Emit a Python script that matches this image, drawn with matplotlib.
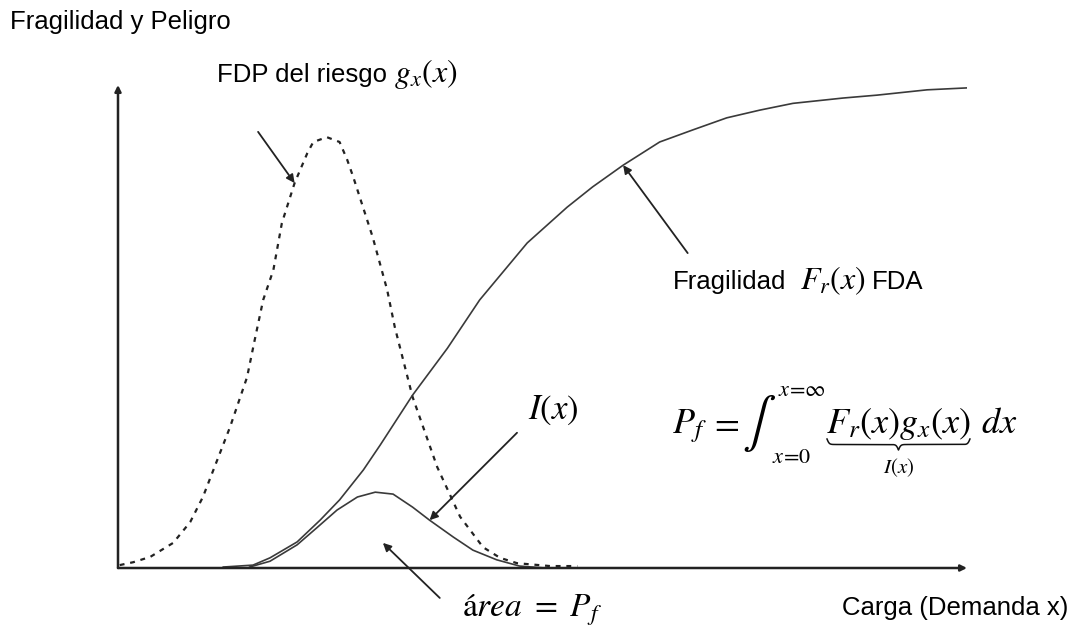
import numpy as np
import matplotlib
matplotlib.use("Agg")
import matplotlib.pyplot as plt

plt.rcParams['font.family'] = ['Liberation Sans', 'DejaVu Sans']
plt.rcParams['mathtext.fontset'] = 'stix'

# hazard pdf g_x(x) (dashed)
pdf_x = [0.02, 0.18, 0.38, 0.65, 0.85, 1.00, 1.17, 1.32, 1.52, 1.61, 1.71, 1.83, 1.93,
         2.08, 2.23, 2.30, 2.46, 2.61, 2.70, 2.77, 3.00, 3.17, 3.26, 3.47, 3.76, 4.03,
         4.30, 4.50, 4.70, 5.09, 5.41]
pdf_y = [0.006, 0.012, 0.023, 0.052, 0.095, 0.147, 0.224, 0.292, 0.395, 0.472, 0.555,
         0.617, 0.714, 0.797, 0.859, 0.882, 0.892, 0.882, 0.845, 0.810, 0.685, 0.576,
         0.499, 0.354, 0.209, 0.106, 0.043, 0.021, 0.010, 0.004, 0.004]

# fragility cdf F_r(x)
cdf_x = [1.24, 1.59, 1.79, 2.11, 2.38, 2.61, 2.89, 3.09, 3.47, 3.88, 4.26, 4.82, 5.29,
         5.59, 5.95, 6.38, 6.77, 7.17, 7.56, 7.95, 8.54, 8.94, 9.53, 10.0]
cdf_y = [0.002, 0.006, 0.021, 0.054, 0.099, 0.141, 0.203, 0.255, 0.358, 0.455, 0.555,
         0.673, 0.747, 0.789, 0.834, 0.882, 0.907, 0.932, 0.948, 0.962, 0.973, 0.979,
         0.990, 0.994]

# integrand I(x) = F_r(x) g_x(x)
ix_x = [1.55, 1.79, 2.11, 2.34, 2.58, 2.82, 3.03, 3.24, 3.47, 3.67, 3.95, 4.18, 4.46,
        4.73, 5.03]
ix_y = [0.002, 0.014, 0.048, 0.083, 0.120, 0.147, 0.157, 0.153, 0.126, 0.099, 0.064,
        0.037, 0.017, 0.004, 0.0]

W, H = 1074, 635
fig = plt.figure(figsize=(W / 100, H / 100), dpi=100)
ax = fig.add_axes([118 / W, (H - 568) / H, 849 / W, 483 / H])
ax.set_xlim(0, 10)
ax.set_ylim(0, 1)
ax.axis('off')

ax.plot(pdf_x, pdf_y, color='#222222', lw=1.6, ls=(0, (2.2, 2.6)))
ax.plot(cdf_x, cdf_y, color='#3a3a3a', lw=1.2)
ax.plot(ix_x, ix_y, color='#3a3a3a', lw=1.2)

# axes with arrow heads
axis_style = dict(arrowstyle='-|>', color='#222222', lw=1.8, mutation_scale=9,
                  shrinkA=0, shrinkB=0)
ax.annotate('', xy=(0, 1.0), xytext=(0, 0), arrowprops=axis_style, annotation_clip=False)
ax.annotate('', xy=(10, 0), xytext=(0, 0), arrowprops=axis_style, annotation_clip=False)

# pointer arrows
ptr = dict(arrowstyle='-|>', color='#222222', lw=1.3, mutation_scale=12,
           shrinkA=0, shrinkB=0)
ax.annotate('', xy=(pdf_x[13], pdf_y[13]), xytext=(1.65, 0.903), arrowprops=ptr,
            annotation_clip=False)
ax.annotate('', xy=(cdf_x[14], cdf_y[14]), xytext=(6.71, 0.652), arrowprops=ptr,
            annotation_clip=False)
ax.annotate('', xy=(ix_x[9], ix_y[9]), xytext=(4.70, 0.280), arrowprops=ptr,
            annotation_clip=False)
ax.annotate('', xy=(3.12, 0.052), xytext=(3.79, -0.062), arrowprops=ptr,
            annotation_clip=False)

renderer = fig.canvas.get_renderer()


def fx(px):
    return px / W


def fy(py):
    return (H - py) / H


def row(x, base, pieces):
    # lay text pieces side by side on one baseline, x in pixels from the left
    for s, size, gap in pieces:
        t = fig.text(fx(x), fy(base), s, fontsize=size, va='baseline')
        x = t.get_window_extent(renderer=renderer).x1 + gap
    return t


sans = 18.5
fig.text(fx(10), fy(22), 'Fragilidad y Peligro', fontsize=sans, va='center')
fig.text(fx(1068), fy(608), 'Carga (Demanda x)', fontsize=sans, va='center', ha='right')
row(217, 82, [('FDP del riesgo', sans, 7), (r'$g_x(x)$', 23, 0)])
row(673, 289, [('Fragilidad', sans, 14), (r'$F_r(x)$', 23, 6), ('FDA', sans, 0)])
fig.text(fx(553), fy(419), r'$I(x)$', fontsize=25, va='baseline', ha='center')
fig.text(fx(462), fy(617), r'á$rea\ =\ P_f$', fontsize=24, va='baseline',
         family='STIXGeneral')

# failure probability integral
fig.text(fx(672), fy(433), r'$P_f$', fontsize=26, va='baseline')
fig.text(fx(709), fy(433), r'$=$', fontsize=26, va='baseline')
fig.text(fx(742), fy(424), r'$\int$', fontsize=36, va='center')
fig.text(fx(778), fy(396), r'$x\!=\!\infty$', fontsize=16, va='baseline')
fig.text(fx(772), fy(463), r'$x\!=\!0$', fontsize=16, va='baseline')
mid = fig.text(fx(826), fy(433), r'$F_r(x)g_x(x)$', fontsize=26, va='baseline')
fig.text(fx(981), fy(433), r'$dx$', fontsize=26, va='baseline')

bb = mid.get_window_extent(renderer=renderer)
x0, x1 = bb.x0 + 1, bb.x1 - 1
ytop = H - 439
h = 11
w = (x1 - x0) / 2
beta = 0.9
s = np.linspace(0, w, 200)
half = 1 / (1 + np.exp(-beta * s)) + 1 / (1 + np.exp(-beta * (s - w)))
yh = ytop - h * (half - 0.5)
bx = np.concatenate([x0 + s, x1 - s[::-1]])
by = np.concatenate([yh, yh[::-1]])
fig.add_artist(plt.Line2D(bx / W, by / H, color='#111111', lw=1.1,
                          transform=fig.transFigure))
fig.text((x0 + x1) / 2 / W, fy(468), r'$I(x)$', fontsize=15, va='center', ha='center')

fig.savefig('out.png', dpi=100, facecolor='white')
